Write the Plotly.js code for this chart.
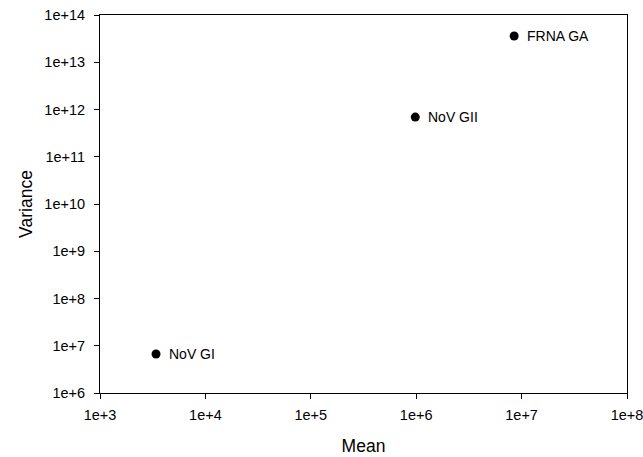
<!DOCTYPE html>
<html><head><meta charset="utf-8">
<script src="https://cdn.plot.ly/plotly-3.0.1.min.js"></script>
<style>html,body{margin:0;padding:0;background:#fff}#chart{width:643px;height:457px}</style>
</head><body><div id="chart"></div>
<script>
const labels = ["NoV GI", "NoV GII", "FRNA GA"];
const meanValues = [3400, 9.8e5, 8.5e6];
const varianceValues = [6.7e6, 6.9e11, 3.6e13];
const xTickVals = [1e3, 1e4, 1e5, 1e6, 1e7, 1e8];
const xTickText = ["1e+3", "1e+4", "1e+5", "1e+6", "1e+7", "1e+8"];
const yTickVals = [1e6, 1e7, 1e8, 1e9, 1e10, 1e11, 1e12, 1e13, 1e14];
const yTickText = ["1e+6", "1e+7", "1e+8", "1e+9", "1e+10", "1e+11", "1e+12", "1e+13", "1e+14"];

const font = {family: "Liberation Sans, Arial, sans-serif", color: "#000"};
const axisCommon = {
  type: "log", showgrid: false, zeroline: false, showline: true, mirror: true,
  linecolor: "#000", linewidth: 1, ticks: "outside", ticklen: 5, tickcolor: "#000",
  tickfont: Object.assign({size: 14.5}, font), tickmode: "array",
  ticklabeloverflow: "allow"
};
const annotations = labels.map((t, i) => ({
  x: Math.log10(meanValues[i]), y: Math.log10(varianceValues[i]),
  xref: "x", yref: "y", text: t, showarrow: false,
  xanchor: "left", yanchor: "middle", xshift: 11, yshift: 0,
  font: Object.assign({size: 14}, font)
}));
Plotly.newPlot("chart", [{
  x: meanValues, y: varianceValues,
  mode: "markers", type: "scatter",
  marker: {color: "#000", size: 9},
  cliponaxis: false
}], {
  width: 643, height: 457,
  margin: {l: 100, r: 16, t: 15, b: 64, autoexpand: false},
  paper_bgcolor: "#fff", plot_bgcolor: "#fff",
  showlegend: false,
  font: font,
  annotations: annotations,
  xaxis: Object.assign({}, axisCommon, {range: [3, 8], tickvals: xTickVals, ticktext: xTickText,
    ticklabelstandoff: 4, automargin: false,
    title: {text: "Mean", font: Object.assign({size: 17.5}, font), standoff: 17}}),
  yaxis: Object.assign({}, axisCommon, {range: [6, 14], tickvals: yTickVals, ticktext: yTickText,
    ticklabelstandoff: 6, automargin: false,
    title: {text: "Variance", font: Object.assign({size: 17.5}, font), standoff: 7}})
}, {displayModeBar: false, staticPlot: true});
</script></body></html>
